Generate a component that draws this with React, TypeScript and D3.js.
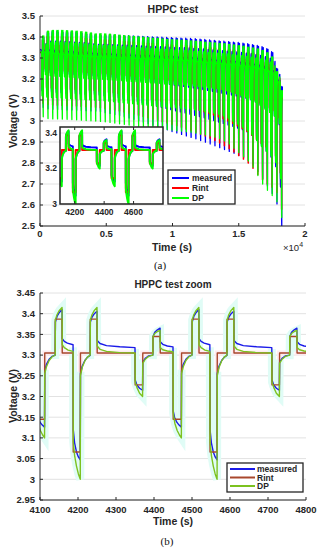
import React from "react";
import * as d3 from "d3";

type Pt = [number, number];

// one HPPC pulse sequence (b): [seconds into sequence, volts]
const PERIOD = 360;
const FIRST_CYCLE = 130; // s, start of the first sequence in (a)
const ZOOM_CYCLE = 11; // sequence that (b) and the inset start with
const BASE = 3.305; // rest level of the model in the zoom

const measuredTpl: Pt[] = [
  [0, 3.32], [0.5, 3.165], [4, 3.15], [10, 3.138], [16, 3.131], [22, 3.126],
  [22.5, 3.262], [27, 3.278], [34, 3.29], [42, 3.297], [50, 3.3],
  [50.5, 3.38], [55, 3.394], [61, 3.403], [68, 3.41],
  [68.5, 3.34], [74, 3.333], [82, 3.329], [97, 3.325],
  [97.5, 3.12], [101, 3.088], [106, 3.066], [111, 3.054], [116, 3.047],
  [116.5, 3.255], [121, 3.273], [128, 3.287], [135, 3.295], [142, 3.299],
  [142.5, 3.38], [147, 3.392], [153, 3.4], [160, 3.406],
  [160.5, 3.335], [168, 3.328], [185, 3.323], [220, 3.32], [260, 3.318],
  [260.5, 3.24], [265, 3.228], [272, 3.22], [280, 3.215],
  [280.5, 3.283], [287, 3.292], [296, 3.298], [307, 3.3],
  [307.5, 3.345], [312, 3.355], [319, 3.361], [326, 3.365],
  [326.5, 3.332], [333, 3.326], [345, 3.322], [360, 3.32],
];

const rintTpl: Pt[] = [
  [0, 3.305], [0.5, 3.145], [22, 3.145], [22.5, 3.305], [50, 3.305],
  [50.5, 3.387], [68, 3.387], [68.5, 3.305], [97, 3.305],
  [97.5, 3.066], [116, 3.066], [116.5, 3.305], [142, 3.305],
  [142.5, 3.387], [160, 3.387], [160.5, 3.305], [260, 3.305],
  [260.5, 3.228], [280, 3.228], [280.5, 3.305], [307, 3.305],
  [307.5, 3.345], [326, 3.345], [326.5, 3.305], [360, 3.305],
];

const dpTpl: Pt[] = [
  [0, 3.308], [0.5, 3.16], [5, 3.135], [11, 3.118], [17, 3.107], [22, 3.1],
  [22.5, 3.255], [27, 3.272], [34, 3.287], [42, 3.296], [50, 3.3],
  [50.5, 3.385], [55, 3.398], [61, 3.408], [68, 3.415],
  [68.5, 3.325], [74, 3.318], [84, 3.312], [97, 3.309],
  [97.5, 3.09], [101, 3.058], [106, 3.032], [111, 3.013], [116, 3.0],
  [116.5, 3.25], [121, 3.27], [128, 3.286], [135, 3.295], [142, 3.3],
  [142.5, 3.385], [147, 3.398], [153, 3.408], [160, 3.415],
  [160.5, 3.322], [168, 3.314], [185, 3.309], [220, 3.306], [260, 3.305],
  [260.5, 3.235], [265, 3.222], [272, 3.208], [280, 3.2],
  [280.5, 3.28], [287, 3.29], [296, 3.297], [307, 3.3],
  [307.5, 3.345], [312, 3.352], [319, 3.357], [326, 3.36],
  [326.5, 3.318], [333, 3.313], [345, 3.31], [360, 3.308],
];

// pulse windows inside a sequence (s), shaded in (b)
const pulseWindows: Pt[] = [[0, 22], [50, 68], [97, 116], [142, 160], [260, 280], [307, 326]];

// per-sequence levels (a)
const restLevel = [
  3.326, 3.323, 3.32, 3.318, 3.316, 3.314, 3.312, 3.31, 3.309, 3.307,
  3.306, 3.305, 3.304, 3.303, 3.302, 3.301, 3.3, 3.299, 3.298, 3.297,
  3.296, 3.295, 3.294, 3.293, 3.292, 3.291, 3.29, 3.289, 3.288, 3.287,
  3.286, 3.284, 3.282, 3.28, 3.278, 3.276, 3.274, 3.272, 3.27, 3.268,
  3.266, 3.263, 3.26, 3.257, 3.253, 3.249, 3.244, 3.236, 3.222, 3.185, 3.105,
];
const peakModel = [
  3.405, 3.428, 3.431, 3.432, 3.431, 3.43, 3.429, 3.428, 3.426, 3.423,
  3.419, 3.415, 3.416, 3.415, 3.413, 3.411, 3.409, 3.407, 3.405, 3.403,
  3.401, 3.399, 3.397, 3.395, 3.393, 3.391, 3.389, 3.387, 3.386, 3.385,
  3.384, 3.382, 3.38, 3.378, 3.376, 3.374, 3.372, 3.37, 3.368, 3.365,
  3.362, 3.359, 3.356, 3.352, 3.348, 3.343, 3.336, 3.325, 3.305, 3.235, 3.145,
];
const peakMeasured = [
  3.4, 3.423, 3.426, 3.427, 3.426, 3.425, 3.424, 3.423, 3.421, 3.418,
  3.414, 3.41, 3.411, 3.411, 3.41, 3.409, 3.408, 3.407, 3.406, 3.405,
  3.404, 3.403, 3.402, 3.401, 3.4, 3.399, 3.398, 3.397, 3.396, 3.395,
  3.394, 3.393, 3.392, 3.39, 3.388, 3.386, 3.384, 3.382, 3.38, 3.378,
  3.376, 3.374, 3.371, 3.368, 3.364, 3.36, 3.354, 3.345, 3.33, 3.25, 3.165,
];
const minDP = [
  3.02, 3.012, 3.01, 3.01, 3.009, 3.008, 3.007, 3.006, 3.004, 3.002,
  3.001, 3.0, 2.998, 2.996, 2.993, 2.99, 2.987, 2.984, 2.981, 2.978,
  2.975, 2.972, 2.969, 2.966, 2.963, 2.961, 2.959, 2.957, 2.954, 2.952,
  2.949, 2.946, 2.942, 2.938, 2.934, 2.929, 2.923, 2.916, 2.905, 2.89,
  2.87, 2.85, 2.83, 2.81, 2.78, 2.74, 2.7, 2.67, 2.645, 2.615, 2.54,
];
const minMeasured = [
  3.065, 3.058, 3.056, 3.055, 3.054, 3.053, 3.052, 3.051, 3.05, 3.049,
  3.048, 3.047, 3.044, 3.04, 3.036, 3.031, 3.026, 3.02, 3.014, 3.008,
  3.001, 2.994, 2.987, 2.98, 2.973, 2.966, 2.958, 2.95, 2.943, 2.936,
  2.929, 2.922, 2.915, 2.907, 2.899, 2.891, 2.882, 2.873, 2.864, 2.855,
  2.846, 2.836, 2.826, 2.812, 2.79, 2.76, 2.725, 2.69, 2.655, 2.605, 2.5,
];
const minRint = [
  3.085, 3.078, 3.076, 3.075, 3.074, 3.073, 3.072, 3.071, 3.069, 3.068,
  3.067, 3.066, 3.063, 3.06, 3.056, 3.052, 3.048, 3.043, 3.038, 3.033,
  3.027, 3.021, 3.015, 3.009, 3.003, 2.997, 2.991, 2.984, 2.977, 2.97,
  2.962, 2.954, 2.946, 2.937, 2.928, 2.918, 2.907, 2.895, 2.882, 2.868,
  2.852, 2.835, 2.818, 2.8, 2.775, 2.745, 2.72, 2.7, 2.685, 2.66, 2.58,
];

// axis ticks
const topYTicks = [2.5, 2.6, 2.7, 2.8, 2.9, 3, 3.1, 3.2, 3.3, 3.4, 3.5];
const topXTicks = [0, 5000, 10000, 15000, 20000];
const zoomYTicks = [2.95, 3, 3.05, 3.1, 3.15, 3.2, 3.25, 3.3, 3.35, 3.4, 3.45];
const zoomXTicks = [4100, 4200, 4300, 4400, 4500, 4600, 4700, 4800];
const insetYTicks = [3, 3.2, 3.4];
const insetXTicks = [4200, 4400, 4600];
const seriesNames = ["measured", "Rint", "DP"];

const topColors = ["#0000ff", "#ff0000", "#00ff00"];
const zoomColors = ["#1a1ae8", "#a8472c", "#7cc21f"];

// whole test: the zoom template re-levelled with each sequence's read levels
function wholeTest(tpl: Pt[], tplPeak: number, tplMin: number, peaks: number[], mins: number[]): Pt[] {
  const out: Pt[] = [[0, restLevel[0] + tpl[0][1] - BASE]];
  const last = restLevel.length - 1;
  restLevel.forEach((rest, k) => {
    const t0 = FIRST_CYCLE + PERIOD * k;
    const up = (peaks[k] - rest) / (tplPeak - BASE);
    const down = (rest - mins[k]) / (BASE - tplMin);
    tpl.forEach(([tau, v]) => {
      if (k === last && tau > 161) return;
      const d = v - BASE;
      out.push([t0 + tau, rest + d * (d > 0 ? up : down)]);
    });
  });
  return out;
}

const zoomStart = FIRST_CYCLE + PERIOD * ZOOM_CYCLE;
const twoSequences = (tpl: Pt[]): Pt[] =>
  [0, 1].flatMap((j) => tpl.map(([tau, v]) => [zoomStart + j * PERIOD + tau, v] as Pt));

const topSeries = [
  wholeTest(measuredTpl, 3.41, 3.047, peakMeasured, minMeasured),
  wholeTest(rintTpl, 3.415, 3.066, peakModel, minRint),
  wholeTest(dpTpl, 3.415, 3.0, peakModel, minDP),
];
const zoomSeries = [twoSequences(measuredTpl), twoSequences(rintTpl), twoSequences(dpTpl)];
const pulseSegments: Pt[][] = [0, 1].flatMap((j) =>
  pulseWindows.map(([a, b]) =>
    dpTpl.filter(([tau]) => tau >= a && tau <= b + 0.5).map(([tau, v]) => [zoomStart + j * PERIOD + tau, v] as Pt)
  )
);

const topX = d3.scaleLinear().domain([0, 20000]).range([40, 305]);
const topY = d3.scaleLinear().domain([2.5, 3.5]).range([226, 16]);
const zX = d3.scaleLinear().domain([4100, 4800]).range([40, 306]);
const zY = d3.scaleLinear().domain([2.95, 3.45]).range([500, 293]);
const inX = d3.scaleLinear().domain([4100, 4800]).range([60, 163]);
const inY = d3.scaleLinear().domain([3, 3.434]).range([204, 127]);

const axisCol = "#262626";
const gridCol = "#e2e2e2";

export default function App() {
  const lineTop = d3.line<Pt>().x((d) => topX(d[0])).y((d) => topY(d[1]));
  const lineZoom = d3.line<Pt>().x((d) => zX(d[0])).y((d) => zY(d[1]));
  const lineInset = d3.line<Pt>().x((d) => inX(d[0])).y((d) => inY(d[1]));

  return (
    <svg
      width={321}
      height={550}
      style={{ position: "absolute", left: 0, top: 0, background: "#fff" }}
      fontFamily="'Liberation Sans', Arial, sans-serif"
      fontWeight="bold"
      fill={axisCol}
    >
      <defs>
        <clipPath id="clipTop"><rect x={40} y={16} width={265} height={210} /></clipPath>
        <clipPath id="clipZoom"><rect x={40} y={293} width={266} height={207} /></clipPath>
        <clipPath id="clipInset"><rect x={60} y={127} width={103} height={77} /></clipPath>
      </defs>
      <rect x={0} y={0} width={321} height={550} fill="#fff" />

      {/* ---------- (a) whole HPPC test ---------- */}
      <text x={173} y={13} textAnchor="middle" fontSize={10.5}>HPPC test</text>
      {topYTicks.map((v) => (
        <g key={"ty" + v}>
          <line x1={40} x2={305} y1={topY(v)} y2={topY(v)} stroke={gridCol} />
          <text x={35} y={topY(v)} dy="0.35em" textAnchor="end" fontSize={9.5}>{+v.toFixed(1)}</text>
        </g>
      ))}
      <g clipPath="url(#clipTop)" fill="none" strokeWidth={1.3} strokeLinejoin="round">
        {topSeries.map((s, i) => (
          <path key={i} d={lineTop(s) ?? ""} stroke={topColors[i]} />
        ))}
      </g>
      <line x1={40} x2={40} y1={16} y2={226} stroke={axisCol} />
      <line x1={40} x2={305} y1={226} y2={226} stroke={axisCol} />
      {topYTicks.map((v) => (
        <line key={"tyt" + v} x1={40} x2={43} y1={topY(v)} y2={topY(v)} stroke={axisCol} />
      ))}
      {topXTicks.map((v) => (
        <g key={"tx" + v}>
          <line x1={topX(v)} x2={topX(v)} y1={226} y2={223} stroke={axisCol} />
          <text x={topX(v)} y={237} textAnchor="middle" fontSize={9.5}>{v / 10000}</text>
        </g>
      ))}
      <text x={172} y={251} textAnchor="middle" fontSize={10.5}>Time (s)</text>
      <text x={283} y={251} fontSize={9.5} fontWeight="normal">×10<tspan dy={-4} fontSize={7}>4</tspan></text>
      <text transform="translate(16.5,121) rotate(-90)" textAnchor="middle" fontSize={10.5}>Voltage (V)</text>
      <text x={160} y={269} textAnchor="middle" fontSize={11} fontWeight="normal" fontFamily="'Liberation Serif', 'Times New Roman', serif" fill="#111">(a)</text>

      {/* inset */}
      <rect x={60} y={127} width={103} height={77} fill="#fff" />
      {insetYTicks.map((v) => (
        <g key={"iy" + v}>
          <line x1={60} x2={163} y1={inY(v)} y2={inY(v)} stroke={gridCol} />
          <text x={57} y={inY(v)} dy="0.35em" textAnchor="end" fontSize={8.5}>{+v.toFixed(1)}</text>
        </g>
      ))}
      <g clipPath="url(#clipInset)" fill="none" strokeWidth={2} strokeLinejoin="round">
        {zoomSeries.map((s, i) => (
          <path key={i} d={lineInset(s) ?? ""} stroke={topColors[i]} />
        ))}
      </g>
      {insetXTicks.map((v) => (
        <g key={"ix" + v}>
          <line x1={inX(v)} x2={inX(v)} y1={204} y2={201} stroke={axisCol} />
          <line x1={inX(v)} x2={inX(v)} y1={127} y2={130} stroke={axisCol} />
          <text x={inX(v)} y={215} textAnchor="middle" fontSize={8.5}>{v}</text>
        </g>
      ))}
      <rect x={60} y={127} width={103} height={77} fill="none" stroke={axisCol} strokeWidth={1.5} />

      {/* legend (a) */}
      <rect x={168} y={170} width={67} height={34} fill="#fff" stroke={axisCol} strokeWidth={1.3} />
      {seriesNames.map((n, i) => (
        <g key={"la" + n}>
          <line x1={172} x2={189} y1={178 + i * 10} y2={178 + i * 10} stroke={topColors[i]} strokeWidth={2} />
          <text x={192} y={181 + i * 10} fontSize={8.5}>{n}</text>
        </g>
      ))}

      {/* ---------- (b) zoom ---------- */}
      <text x={173} y={288} textAnchor="middle" fontSize={10}>HPPC test zoom</text>
      {zoomYTicks.map((v) => (
        <g key={"zy" + v}>
          <line x1={40} x2={306} y1={zY(v)} y2={zY(v)} stroke={gridCol} />
          <text x={35} y={zY(v)} dy="0.35em" textAnchor="end" fontSize={9.5}>{+v.toFixed(2)}</text>
        </g>
      ))}
      <g clipPath="url(#clipZoom)" fill="none">
        <path d={lineZoom(zoomSeries[1]) ?? ""} stroke="#fdebf0" strokeWidth={5} strokeLinejoin="miter" />
        {pulseSegments.map((s, i) => (
          <path key={"c" + i} d={lineZoom(s) ?? ""} stroke="#e0fcf6" strokeWidth={8} strokeLinejoin="miter" strokeLinecap="square" />
        ))}
        {zoomSeries.map((s, i) => (
          <path key={i} d={lineZoom(s) ?? ""} stroke={zoomColors[i]} strokeWidth={1.4} strokeLinejoin="round" />
        ))}
      </g>
      <line x1={40} x2={40} y1={293} y2={500} stroke={axisCol} />
      <line x1={40} x2={306} y1={500} y2={500} stroke={axisCol} />
      {zoomYTicks.map((v) => (
        <line key={"zyt" + v} x1={40} x2={43} y1={zY(v)} y2={zY(v)} stroke={axisCol} />
      ))}
      {zoomXTicks.map((v) => (
        <g key={"zx" + v}>
          <line x1={zX(v)} x2={zX(v)} y1={500} y2={497} stroke={axisCol} />
          <text x={zX(v)} y={513} textAnchor="middle" fontSize={9.5}>{v}</text>
        </g>
      ))}
      <text x={173} y={525} textAnchor="middle" fontSize={10.5}>Time (s)</text>
      <text transform="translate(16.5,396) rotate(-90)" textAnchor="middle" fontSize={10.5}>Voltage (V)</text>
      <text x={167} y={545} textAnchor="middle" fontSize={11} fontWeight="normal" fontFamily="'Liberation Serif', 'Times New Roman', serif" fill="#111">(b)</text>

      {/* legend (b) */}
      <rect x={227} y={463} width={76} height={29} fill="#fff" stroke={axisCol} strokeWidth={1.3} />
      {seriesNames.map((n, i) => (
        <g key={"lb" + n}>
          <line x1={230} x2={255} y1={469 + i * 8.5} y2={469 + i * 8.5} stroke={zoomColors[i]} strokeWidth={2} />
          <text x={257} y={472 + i * 8.5} fontSize={8.5}>{n}</text>
        </g>
      ))}
    </svg>
  );
}
